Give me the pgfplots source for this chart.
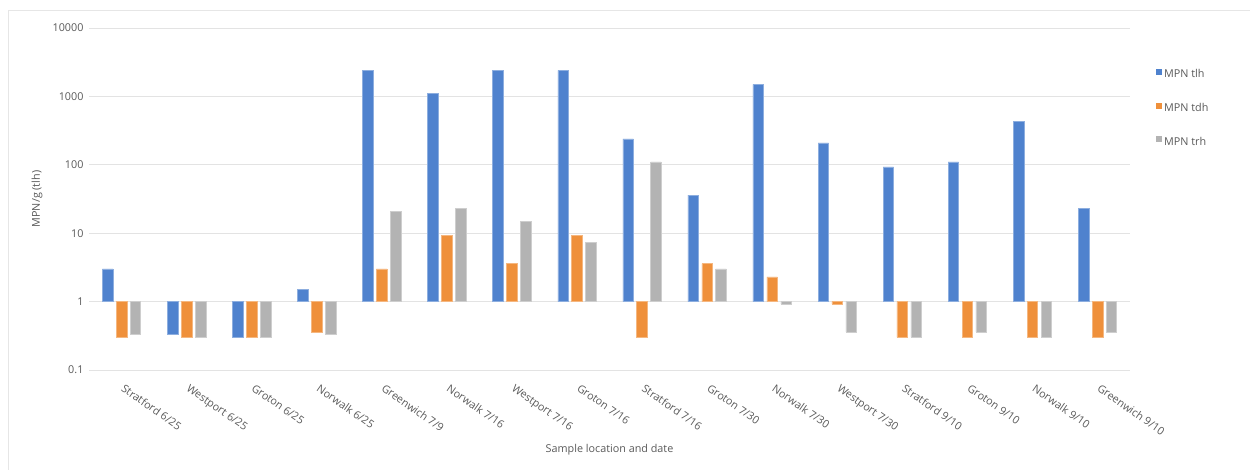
\documentclass[border=0pt]{standalone}
\usepackage{fontspec}
\setmainfont{Open Sans}
\usepackage{pgfplots}
\pgfplotsset{compat=1.18}

\definecolor{tlh}{HTML}{4F82CE}
\definecolor{tdh}{HTML}{EF903B}
\definecolor{trh}{HTML}{B3B3B3}
\definecolor{gridc}{HTML}{E3E3E3}
\definecolor{frame}{HTML}{E6E6E6}
\definecolor{txt}{HTML}{595959}
\newcommand\lblfont{\fontsize{10.8}{12.5}\selectfont}

\begin{document}
\begin{tikzpicture}[x=1pt,y=1pt]
\useasboundingbox (0,0) rectangle (1250,470);
% chart area frame
\draw[frame, line width=0.8pt] (8,-20) rectangle (1280,460);
\begin{axis}[
  at={(89pt,100pt)}, anchor=south west,
  scale only axis, width=1041pt, height=342pt,
  ymode=log, log origin=0,
  ymin=0.1, ymax=10000,
  xmin=-0.5, xmax=15.5,
  ybar=3.3pt, bar width=10.6pt,
  axis line style={draw=none},
  tick style={draw=none},
  ymajorgrids, grid style={gridc, line width=0.9pt},
  ytick={0.1,1,10,100,1000,10000},
  yticklabels={0.1,1,10,100,1000,10000},
  yticklabel style={font=\lblfont, text=txt, xshift=-2pt},
  xtick={0,...,15},
  xticklabels={Stratford 6/25, Westport 6/25, Groton 6/25, Norwalk 6/25,
    Greenwich 7/9, Norwalk 7/16, Westport 7/16, Groton 7/16, Stratford 7/16,
    Groton 7/30, Norwalk 7/30, Westport 7/30, Stratford 9/10, Groton 9/10,
    Norwalk 9/10, Greenwich 9/10},
  xticklabel style={font=\lblfont, text=txt,
    rotate=-35, anchor=north west, xshift=5pt, yshift=-2pt},
  xlabel={Sample location and date},
  xlabel style={font=\lblfont, text=txt,
    at={(axis description cs:0.5,-0.232)}, anchor=center},
  ylabel={MPN/g (tlh)},
  ylabel style={font=\lblfont, text=txt,
    at={(axis description cs:-0.05,0.5)}, anchor=center, rotate=0},
  legend style={at={(axis description cs:1.025,0.885)}, anchor=north west,
    draw=none, fill=none, font=\lblfont, text=txt,
    row sep=20pt, inner sep=0pt},
  legend cell align=left,
  legend image code/.code={\fill[#1,/tikz/.cd,draw=none] (0pt,-0.5pt) rectangle (6pt,5.5pt);},
]
\addplot[fill=tlh, draw=tlh!65!white, line width=0.5pt] coordinates {
  (0,3) (1,0.33) (2,0.3) (3,1.5) (4,2400) (5,1100) (6,2400) (7,2400)
  (8,240) (9,36) (10,1500) (11,210) (12,93) (13,110) (14,430) (15,23)};
\addplot[fill=tdh, draw=tdh!65!white, line width=0.5pt] coordinates {
  (0,0.3) (1,0.3) (2,0.3) (3,0.36) (4,3) (5,9.2) (6,3.6) (7,9.2)
  (8,0.3) (9,3.6) (10,2.3) (11,0.92) (12,0.3) (13,0.3) (14,0.3) (15,0.3)};
\addplot[fill=trh, draw=trh!65!white, line width=0.5pt] coordinates {
  (0,0.33) (1,0.3) (2,0.3) (3,0.33) (4,21) (5,23) (6,15) (7,7.4)
  (8,110) (9,3) (10,0.92) (11,0.36) (12,0.3) (13,0.36) (14,0.3) (15,0.36)};
\legend{MPN tlh, MPN tdh, MPN trh}
\end{axis}
\end{tikzpicture}
\end{document}
